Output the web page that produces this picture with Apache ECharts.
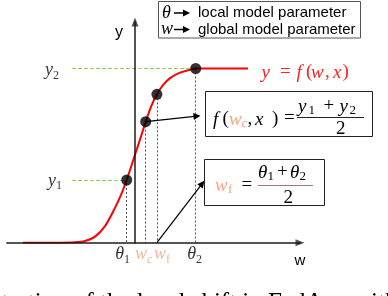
<!DOCTYPE html>
<html><head><meta charset="utf-8">
<script src="https://cdn.jsdelivr.net/npm/echarts@6/dist/echarts.min.js"></script>
<style>html,body{margin:0;padding:0;background:#fff}#c{width:388px;height:296px}</style>
</head><body><div id="c"></div>
<script>
// sigmoid-like curve y = f(w, x)
const curveW = [-5.6, -3.75, -3.0, -2.5, -2.0, -1.5, -1.0, -0.7, -0.415, 0, 0.3, 0.535, 0.8, 1.095, 1.4, 1.75, 2.25, 2.75, 3.035, 3.75, 5.65];
const curveY = [0, 0, 0.002, 0.01, 0.035, 0.095, 0.2, 0.275, 0.36, 0.505, 0.61, 0.695, 0.78, 0.852, 0.905, 0.945, 0.976, 0.993, 1.0, 1.0, 1.0];
// marked parameters on the w axis and their curve values
const paramNames = ['θ1', 'wc', 'wf', 'θ2'];
const paramW = [-0.415, 0.535, 1.095, 3.035];
const paramY = [0.36, 0.695, 0.852, 1.0];
// levels on the y axis
const levelNames = ['y1', 'y2'];
const levelY = [0.36, 1.0];
const guideStartW = -3.15;
// arrows pointing to the formula boxes
const arrowFromW = [0.535, 1.095];
const arrowFromY = [0.695, 0];
const arrowToW = [3.1, 3.36];
const arrowToY = [0.727, 0.339];

const MATH = "'Liberation Serif', 'DejaVu Serif', serif";
const SANS = "'Liberation Sans', Arial, sans-serif";
const ORANGE = '#f4a582';
const RED = '#ff2020';

const labelRich = {
  i: {fontFamily: MATH, fontStyle: 'italic', fontSize: 18, lineHeight: 22, color: '#000'},
  s: {fontFamily: MATH, fontSize: 12, lineHeight: 13, verticalAlign: 'bottom', color: '#000'},
  oi: {fontFamily: MATH, fontStyle: 'italic', fontSize: 18, lineHeight: 22, color: ORANGE},
  os: {fontFamily: MATH, fontSize: 12, lineHeight: 13, verticalAlign: 'bottom', color: ORANGE},
  osi: {fontFamily: MATH, fontStyle: 'italic', fontSize: 12, lineHeight: 13, verticalAlign: 'bottom', color: ORANGE}
};
const paramLabelText = ['{i|θ}{s|1}', '{oi|w}{osi|c}', '{oi|w}{os|f}', '{i|θ}{s|2}'];
const paramLabelOffset = [[-4, 0], [-2, 0], [5, 0], [-1, 0]];
const levelLabelText = ['{i|y}{s|1}', '{i|y}{s|2}'];
const levelLabelOffset = [[0, 1], [-3, 2]];

const chart = echarts.init(document.getElementById('c'), null, {renderer: 'canvas'});

function T(x, y, text, font, fill, align, vAlign) {
  return {type: 'text', x: x, y: y, silent: true, z: 10,
    style: {text: text, fill: fill || '#000', font: font, verticalAlign: vAlign || 'middle', align: align || 'left'}};
}
const IT = (s) => 'italic ' + s + 'px ' + MATH;
const UP = (s) => s + 'px ' + MATH;
function L(x1, y1, x2, y2, stroke, w) {
  return {type: 'line', silent: true, z: 10, shape: {x1, y1, x2, y2}, style: {stroke: stroke, lineWidth: w || 1}};
}
function smallArrow(x1, x2, y) {
  return [L(x1, y, x2 - 5, y, '#000', 1.5),
    {type: 'polygon', silent: true, z: 10, shape: {points: [[x2 - 7, y - 3.5], [x2, y], [x2 - 7, y + 3.5]]}, style: {fill: '#000'}}];
}

const graphics = [
  // legend box
  {type: 'rect', silent: true, z: 9, shape: {x: 158.5, y: 1.5, width: 202, height: 36.5}, style: {fill: '#fff', stroke: '#555', lineWidth: 1}},
  T(162, 13, 'θ', IT(18)),
  ...smallArrow(174, 190, 13),
  T(198, 13, 'local model parameter', '15px ' + SANS),
  T(161, 29.5, 'w', IT(18)),
  ...smallArrow(174, 190, 29.5),
  T(198, 29.5, 'global model parameter', '15px ' + SANS),
  // axis names
  T(119, 33, 'y', '16px ' + SANS, '#000', 'center'),
  T(300, 260.5, 'w', '15px ' + SANS, '#000', 'center'),
  // curve name  y = f(w, x)
  T(261.5, 73, 'y', IT(19), RED),
  T(280, 72, '=', UP(19), RED),
  T(296.5, 73, 'f', IT(19), RED),
  T(306, 72, '(', UP(19), RED),
  T(311, 73, 'w', IT(19), RED),
  T(325, 72, ',', UP(19), RED),
  T(333, 73, 'x', IT(19), RED),
  T(342.5, 72, ')', UP(19), RED),
  // box 1:  f(wc, x) = (y1 + y2)/2
  {type: 'rect', silent: true, z: 9, shape: {x: 205.5, y: 91.5, width: 167, height: 45}, style: {fill: '#fff', stroke: '#222', lineWidth: 1}},
  T(213, 120, 'f', IT(19)),
  T(222.5, 119, '(', UP(19)),
  T(229, 120, 'w', IT(19), ORANGE),
  T(241.5, 124, 'c', IT(13), ORANGE),
  T(247.5, 119, ',', UP(19)),
  T(255, 120, 'x', IT(19)),
  T(272, 119, ')', UP(19)),
  T(284, 118.5, '=', UP(19)),
  T(298, 107, 'y', IT(19)),
  T(308.5, 111, '1', UP(13)),
  T(323.5, 106.5, '+', UP(19)),
  T(339.5, 107, 'y', IT(19)),
  T(349.5, 111, '2', UP(13)),
  L(297, 117.5, 364, 117.5, '#222', 1),
  T(336, 129.5, '2', UP(19)),
  // box 2:  wf = (θ1 + θ2)/2
  {type: 'rect', silent: true, z: 9, shape: {x: 204.5, y: 159.5, width: 120, height: 46}, style: {fill: '#fff', stroke: '#222', lineWidth: 1}},
  T(215, 185.5, 'w', IT(19), ORANGE),
  T(228, 190, 'f', UP(13), ORANGE),
  T(241.5, 185, '=', UP(19)),
  T(258, 172.5, 'θ', IT(19)),
  T(267.5, 177, '1', UP(13)),
  T(277, 172, '+', UP(19)),
  T(290, 172.5, 'θ', IT(19)),
  T(299.5, 177, '2', UP(13)),
  L(258, 185.5, 313, 185.5, '#9e7a70', 1),
  T(283.5, 198.5, '2', UP(19)),
  // caption (cut off by the frame)
  T(-43, 291, 'Illustration of the local shift in FedAvg with', UP(25), '#000', 'left', 'top')
];

const curveData = curveW.map((w, i) => [w, curveY[i]]);
const pointData = paramW.map((w, i) => [w, paramY[i]]);

const option = {
  animation: false,
  backgroundColor: '#fff',
  grid: {left: 7, top: 22, width: 293, height: 220.7},
  xAxis: {type: 'value', min: -6.4, max: 8.25, z: 3,
    axisLine: {onZero: true, symbol: ['none', 'triangle'], symbolSize: [7, 9], lineStyle: {color: 'rgba(20,20,20,0.72)', width: 2}},
    axisTick: {show: false}, axisLabel: {show: false}, splitLine: {show: false}},
  yAxis: {type: 'value', min: 0, max: 1.267, z: 3,
    axisLine: {onZero: true, symbol: ['none', 'triangle'], symbolSize: [7, 9], lineStyle: {color: 'rgba(20,20,20,0.72)', width: 2}},
    axisTick: {show: false}, axisLabel: {show: false}, splitLine: {show: false}},
  series: [
    {type: 'lines', coordinateSystem: 'cartesian2d', silent: true, z: 1,
      lineStyle: {color: '#92d050', width: 1, type: [4, 2], opacity: 1},
      data: levelY.map((y, i) => ({coords: [[guideStartW, y], [paramW[i === 0 ? 0 : 3], y]]}))},
    {type: 'lines', coordinateSystem: 'cartesian2d', silent: true, z: 1,
      lineStyle: {color: '#555', width: 1, type: [2, 2], opacity: 1},
      data: paramW.map((w, i) => ({coords: [[w, paramY[i]], [w, 0]]}))},
    {type: 'lines', coordinateSystem: 'cartesian2d', silent: true, z: 4,
      symbol: ['none', 'triangle'], symbolSize: 7,
      lineStyle: {color: '#000', width: 1.2, opacity: 1},
      data: arrowFromW.map((w, i) => ({coords: [[w, arrowFromY[i]], [arrowToW[i], arrowToY[i]]]}))},
    {type: 'line', data: curveData, showSymbol: false, smooth: 0.3, silent: true, z: 2,
      lineStyle: {color: '#ff0000', width: 2}},
    {type: 'scatter', data: pointData, symbolSize: 11, silent: true, z: 5, itemStyle: {color: '#000'}},
    {type: 'scatter', silent: true, z: 5, symbolSize: 0,
      data: paramW.map((w, i) => ({value: [w, 0], label: {show: true, position: 'bottom', distance: 1, offset: paramLabelOffset[i], formatter: paramLabelText[i], rich: labelRich}}))},
    {type: 'scatter', silent: true, z: 5, symbolSize: 0,
      data: levelY.map((y, i) => ({value: [guideStartW, y], label: {show: true, position: 'left', distance: 10, offset: levelLabelOffset[i], formatter: levelLabelText[i], rich: labelRich}}))}
  ],
  graphic: {elements: graphics}
};
chart.setOption(option);
</script>
</body></html>
